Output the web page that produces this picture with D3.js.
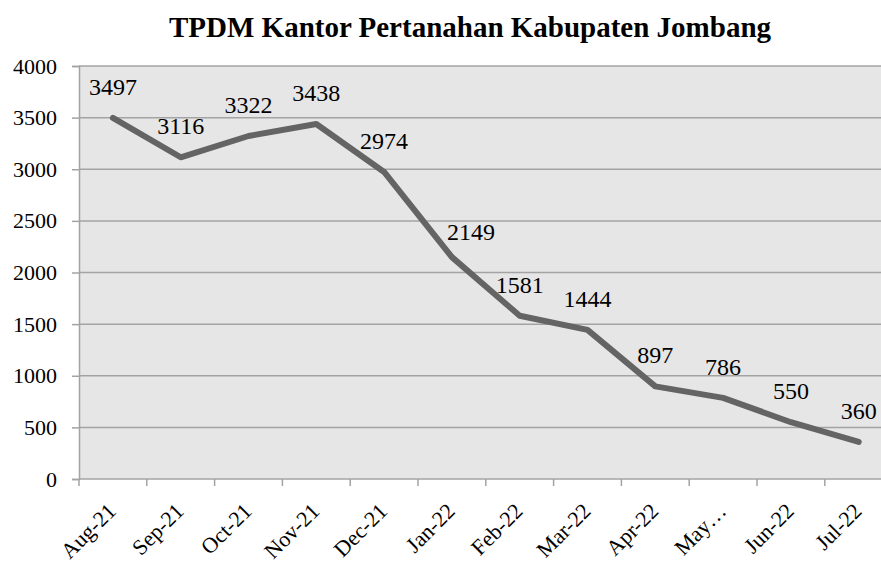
<!DOCTYPE html>
<html>
<head>
<meta charset="utf-8">
<script src="https://cdn.jsdelivr.net/npm/d3@7"></script>
<style>
    body { margin: 0; background: #ffffff; }
    svg { display: block; }
</style>
</head>
<body>
<svg></svg>
<script>
const width = 881;
const height = 561;

const title = "TPDM Kantor Pertanahan Kabupaten Jombang";
const months = ["Aug-21", "Sep-21", "Oct-21", "Nov-21", "Dec-21", "Jan-22",
    "Feb-22", "Mar-22", "Apr-22", "May…", "Jun-22", "Jul-22"];
const counts = [3497, 3116, 3322, 3438, 2974, 2149, 1581, 1444, 897, 786, 550, 360];
const yTicks = [0, 500, 1000, 1500, 2000, 2500, 3000, 3500, 4000];

// plot area (the right edge runs past the window, as in the original)
const plotLeft = 79;
const plotTop = 66;
const plotBottom = 479;
const bandWidth = 67.8;

const serif = "\"Liberation Serif\"";
const plotFill = "#e6e6e6";
const gridColor = "#a3a3a3";
const lineColor = "#646464";

// hand-moved data label (Excel lets you drag one)
const labelNudge = { "Jan-22": { dx: 19, dy: 6 } };

const svg = d3.select("svg")
    .attr("width", width)
    .attr("height", height)
    .attr("viewBox", [0, 0, width, height]);

const x = d3.scaleBand()
    .domain(months)
    .range([plotLeft, plotLeft + bandWidth * months.length])
    .padding(0);

const y = d3.scaleLinear()
    .domain([0, 4000])
    .range([plotBottom, plotTop]);

const cx = m => x(m) + x.bandwidth() / 2;

svg.append("rect")
    .attr("x", plotLeft)
    .attr("y", plotTop)
    .attr("width", bandWidth * months.length)
    .attr("height", plotBottom - plotTop)
    .attr("fill", plotFill);

svg.append("text")
    .attr("x", 470)
    .attr("y", 37)
    .attr("text-anchor", "middle")
    .style("font-family", serif)
    .style("font-weight", "bold")
    .style("font-size", "29px")
    .attr("fill", "#000000")
    .text(title);

// y axis with gridlines
const yAxis = svg.append("g")
    .attr("transform", `translate(${plotLeft},0)`)
    .call(d3.axisLeft(y).tickValues(yTicks).tickFormat(d3.format("d")).tickSize(7).tickPadding(15));
yAxis.select(".domain").attr("stroke", gridColor).attr("stroke-width", 1.5);
yAxis.selectAll(".tick line").attr("stroke", gridColor).attr("stroke-width", 1.5);
yAxis.selectAll(".tick text")
    .style("font-family", serif)
    .style("font-size", "22px")
    .attr("fill", "#000000");

svg.append("g")
    .selectAll("line")
    .data(yTicks.filter(d => d > 0))
    .join("line")
    .attr("x1", plotLeft)
    .attr("x2", width + 20)
    .attr("y1", d => y(d))
    .attr("y2", d => y(d))
    .attr("stroke", gridColor)
    .attr("stroke-width", 1.5);

// x axis: ticks sit between categories
const xAxis = svg.append("g")
    .attr("transform", `translate(0,${plotBottom})`);
xAxis.append("line")
    .attr("x1", plotLeft)
    .attr("x2", width + 20)
    .attr("stroke", gridColor)
    .attr("stroke-width", 1.5);
xAxis.selectAll("line.tick")
    .data(months)
    .join("line")
    .classed("tick", true)
    .attr("x1", d => x(d))
    .attr("x2", d => x(d))
    .attr("y1", 0)
    .attr("y2", 7)
    .attr("stroke", gridColor)
    .attr("stroke-width", 1.5);
xAxis.selectAll("text")
    .data(months)
    .join("text")
    .attr("transform", d => `translate(${cx(d) - 1},${28}) rotate(-45)`)
    .attr("text-anchor", "end")
    .attr("dy", "0.35em")
    .style("font-family", serif)
    .style("font-size", "22px")
    .attr("fill", "#000000")
    .text(d => d);

const line = d3.line()
    .x((d, i) => cx(months[i]))
    .y(d => y(d));

svg.append("path")
    .attr("d", line(counts))
    .attr("fill", "none")
    .attr("stroke", lineColor)
    .attr("stroke-width", 6)
    .attr("stroke-linejoin", "round")
    .attr("stroke-linecap", "round");

svg.append("g")
    .selectAll("text")
    .data(counts)
    .join("text")
    .attr("x", (d, i) => cx(months[i]) + (labelNudge[months[i]] ? labelNudge[months[i]].dx : 0))
    .attr("y", (d, i) => y(d) - 23 + (labelNudge[months[i]] ? labelNudge[months[i]].dy : 0))
    .attr("text-anchor", "middle")
    .style("font-family", serif)
    .style("font-size", "24px")
    .attr("fill", "#000000")
    .text(d => d);
</script>
</body>
</html>
